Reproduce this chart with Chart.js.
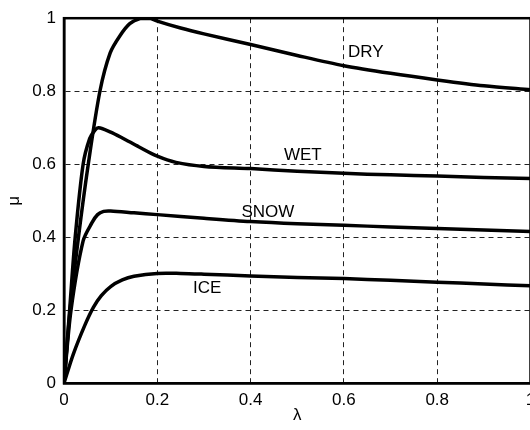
<!DOCTYPE html>
<html>
<head>
<meta charset="utf-8">
<script src="https://cdn.jsdelivr.net/npm/chart.js@4/dist/chart.umd.min.js"></script>
<style>
  html, body { margin: 0; padding: 0; background: #fff; overflow: hidden; }
  #wrap { width: 560px; height: 430px; }
</style>
</head>
<body>
<div id="wrap"><canvas id="muChart" width="560" height="430"></canvas></div>
<script>
// friction curves mu(lambda)
const dryLambda  = [0, 0.013, 0.031, 0.052, 0.077, 0.099, 0.12, 0.141, 0.163, 0.184, 0.2, 0.25, 0.3, 0.4, 0.5, 0.6, 0.7, 0.8, 0.9, 1.0];
const dryMu      = [0, 0.2, 0.4, 0.6, 0.8, 0.905, 0.952, 0.985, 0.999, 1.0, 0.992, 0.973, 0.957, 0.928, 0.898, 0.870, 0.849, 0.831, 0.815, 0.804];

const wetLambda  = [0, 0.012, 0.024, 0.041, 0.055, 0.066, 0.074, 0.1, 0.125, 0.16, 0.2, 0.24, 0.3, 0.4, 0.5, 0.6, 0.7, 0.8, 0.9, 1.0];
const wetMu      = [0, 0.2, 0.4, 0.6, 0.67, 0.693, 0.70, 0.688, 0.672, 0.648, 0.622, 0.605, 0.594, 0.588, 0.581, 0.575, 0.571, 0.568, 0.564, 0.561];

const snowLambda = [0, 0.015, 0.041, 0.06, 0.072, 0.085, 0.1, 0.15, 0.2, 0.3, 0.4, 0.5, 0.6, 0.7, 0.8, 0.9, 1.0];
const snowMu     = [0, 0.2, 0.39, 0.44, 0.462, 0.471, 0.472, 0.467, 0.462, 0.452, 0.443, 0.437, 0.433, 0.428, 0.424, 0.42, 0.416];

const iceLambda  = [0, 0.02, 0.045, 0.063, 0.08, 0.1, 0.125, 0.15, 0.2, 0.25, 0.3, 0.4, 0.5, 0.6, 0.7, 0.8, 0.9, 1.0];
const iceMu      = [0, 0.08, 0.16, 0.208, 0.24, 0.265, 0.283, 0.293, 0.301, 0.301, 0.299, 0.294, 0.29, 0.287, 0.282, 0.277, 0.272, 0.267];

const curveNames  = ['DRY', 'WET', 'SNOW', 'ICE'];
const labelLambda = [0.647, 0.512, 0.437, 0.307];
const labelMu     = [0.906, 0.625, 0.468, 0.259];

const xTicks = [0, 0.2, 0.4, 0.6, 0.8, 1];
const yTicks = [0, 0.2, 0.4, 0.6, 0.8, 1];

const FONT = '"Liberation Sans", Arial, Helvetica, sans-serif';

function toPoints(xs, ys) {
    return xs.map((v, i) => ({ x: v, y: ys[i] }));
}

function curve(xs, ys) {
    return {
        data: toPoints(xs, ys),
        borderColor: '#000',
        borderWidth: 3.5,
        pointRadius: 0,
        fill: false,
        tension: 0.3
    };
}

// text labels next to the curves + the closed frame on top
const curveLabels = {
    id: 'curveLabels',
    afterDatasetsDraw(chart) {
        const { ctx, scales: { x, y } } = chart;
        ctx.save();
        ctx.font = '17px ' + FONT;
        ctx.fillStyle = '#000';
        ctx.textAlign = 'center';
        ctx.textBaseline = 'middle';
        curveNames.forEach((name, i) => {
            ctx.fillText(name, x.getPixelForValue(labelLambda[i]), y.getPixelForValue(labelMu[i]));
        });
        ctx.restore();
    },
    afterDraw(chart) {
        const { ctx, chartArea: a } = chart;
        ctx.save();
        ctx.strokeStyle = '#000';
        ctx.lineWidth = 2.5;
        ctx.strokeRect(a.left, a.top, a.right - a.left, a.bottom - a.top);
        ctx.restore();
    }
};

document.addEventListener('DOMContentLoaded', () => {
    Chart.defaults.color = '#000';
    Chart.defaults.font.family = FONT;
    Chart.defaults.font.size = 17;

    const ctx = document.getElementById('muChart').getContext('2d');
    new Chart(ctx, {
        type: 'line',
        data: {
            datasets: [
                curve(dryLambda, dryMu),
                curve(wetLambda, wetMu),
                curve(snowLambda, snowMu),
                curve(iceLambda, iceMu)
            ]
        },
        options: {
            responsive: false,
            animation: false,
            devicePixelRatio: 1,
            layout: { padding: { top: 15, right: 29.5, bottom: 0, left: 0 } },
            plugins: { legend: { display: false }, tooltip: { enabled: false } },
            scales: {
                x: {
                    type: 'linear',
                    min: 0,
                    max: 1,
                    afterBuildTicks: s => { s.ticks = xTicks.map(v => ({ value: v })); },
                    afterFit: s => { s.height = 46.7; },
                    ticks: { padding: 7, maxRotation: 0, autoSkip: false, callback: v => String(v) },
                    grid: { color: '#222', lineWidth: 1, drawTicks: false },
                    border: { display: true, color: '#000', width: 2.5, dash: [5, 4] },
                    title: { display: true, text: 'λ', padding: { top: 0, bottom: 4 } }
                },
                y: {
                    type: 'linear',
                    min: 0,
                    max: 1,
                    afterBuildTicks: s => { s.ticks = yTicks.map(v => ({ value: v })); },
                    afterFit: s => { s.width = 64; },
                    ticks: { padding: 8, autoSkip: false, callback: v => String(v) },
                    grid: { color: '#222', lineWidth: 1, drawTicks: false },
                    border: { display: true, color: '#000', width: 2.5, dash: [5, 4] },
                    title: { display: true, text: 'μ', padding: { top: 4, bottom: 0 } }
                }
            }
        },
        plugins: [curveLabels]
    });
});
</script>
</body>
</html>
